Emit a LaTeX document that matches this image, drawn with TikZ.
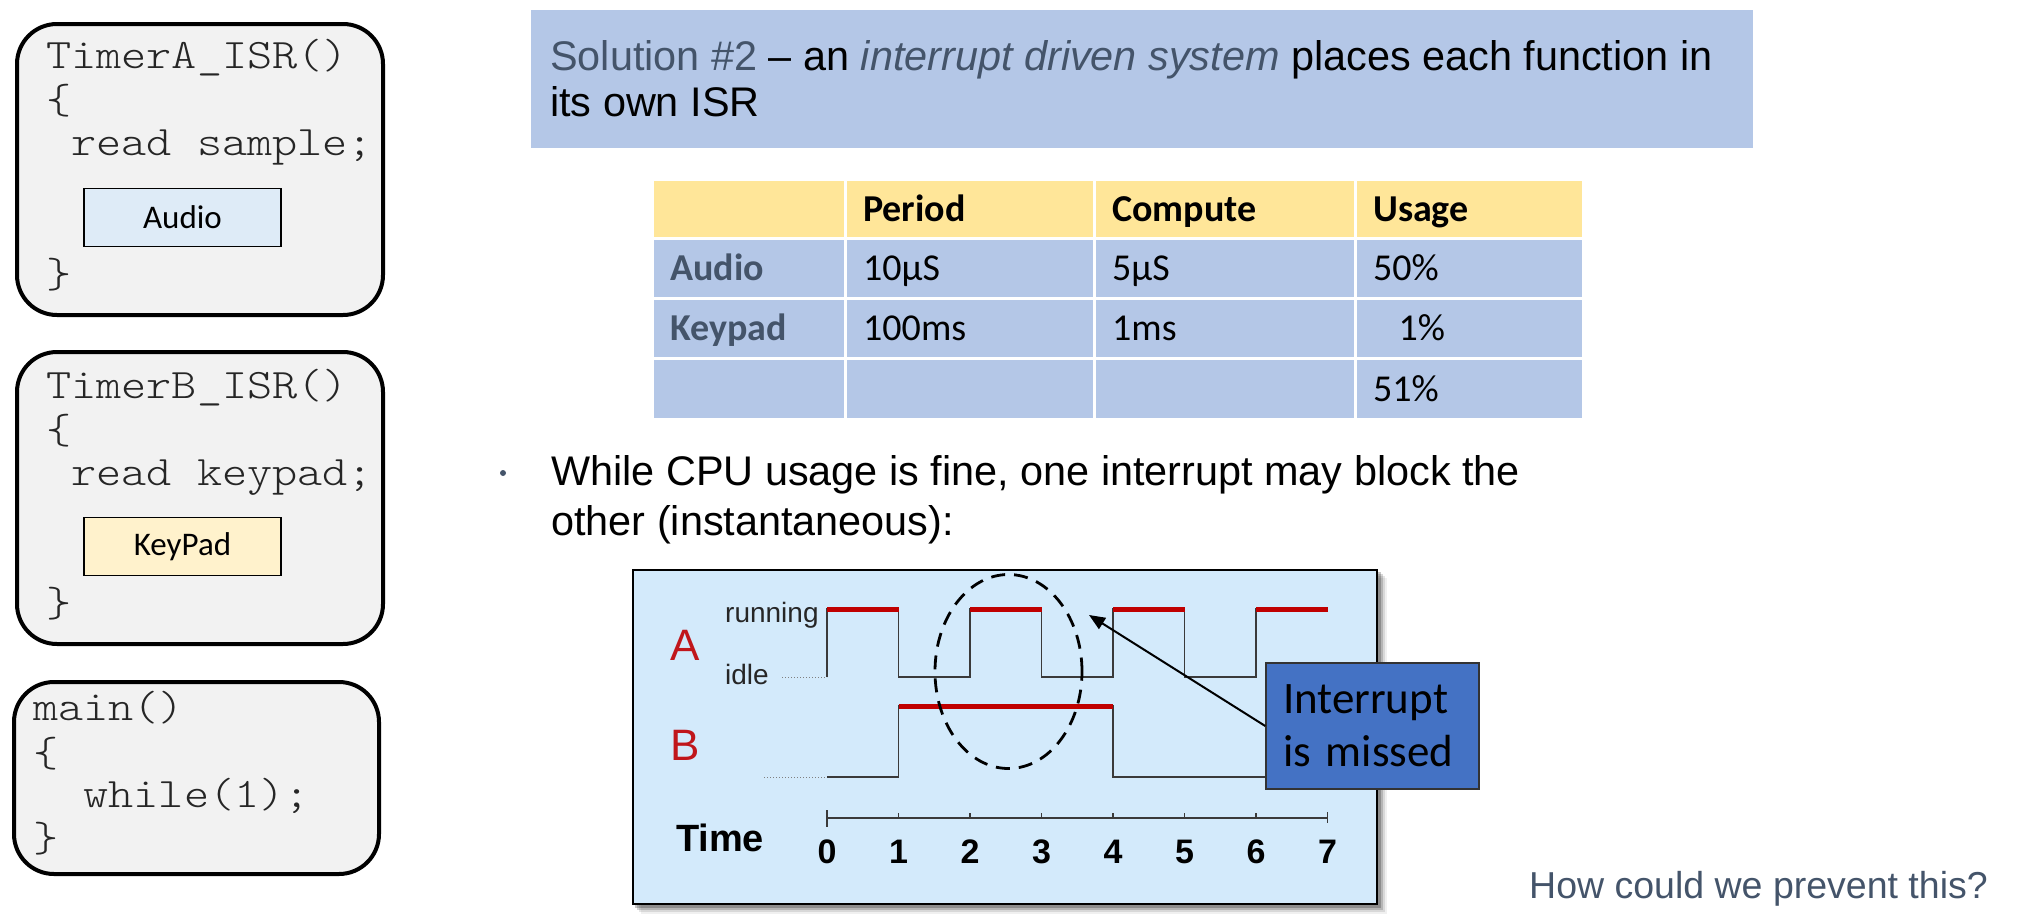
\documentclass[tikz,border=0pt]{standalone}
\usepackage{fontspec}
\setmainfont{Liberation Sans}
\newfontfamily\codefont{lmmonolt10-regular}[Extension=.otf,FakeStretch=1.14]
\newfontfamily\calfont{Carlito}
\usetikzlibrary{arrows.meta,shapes.geometric}
\definecolor{slate}{HTML}{44546A}
\definecolor{hdrblue}{HTML}{B4C7E7}
\definecolor{hdryel}{HTML}{FFE699}
\definecolor{codebg}{HTML}{F2F2F2}
\definecolor{audiobg}{HTML}{DEEBF7}
\definecolor{keybg}{HTML}{FFF2CC}
\definecolor{plotbg}{HTML}{D3EAFB}
\definecolor{runred}{HTML}{C00000}
\definecolor{letred}{HTML}{C0161B}
\definecolor{calloutbg}{HTML}{4472C4}
\definecolor{wave}{HTML}{3A3A3A}
\begin{document}
\begin{tikzpicture}[x=1pt,y=-1pt,
  codebox/.style={draw=black,line width=4pt,fill=codebg,rounded corners=40pt,inner sep=0pt},
  code/.style={anchor=base west,inner sep=0pt,text=black!85,font=\codefont\fontsize{42}{50}\selectfont},
  tagbox/.style={draw=black,line width=1.5pt,inner sep=0pt,minimum width=197pt,minimum height=58pt,font=\calfont\fontsize{33}{40}\selectfont},
  slide/.style={anchor=base west,inner sep=0pt,font=\fontsize{41.4}{49}\selectfont},
  cell/.style n args={2}{anchor=north west,inner xsep=16pt,inner ysep=0pt,align=left,
    text width=#1,minimum height=#2,text height=28pt,text depth=4pt,fill=hdrblue,
    font=\calfont\fontsize{38}{46}\selectfont},
  head/.style={fill=hdryel,font=\calfont\bfseries\fontsize{38}{46}\selectfont},
  rowlab/.style={text=slate,font=\calfont\bfseries\fontsize{38}{46}\selectfont},
  lvl/.style={anchor=base west,inner sep=0pt,text=black!85,font=\fontsize{28}{32}\selectfont},
  sig/.style={text=letred,inner sep=0pt,font=\fontsize{44}{50}\selectfont},
  tnum/.style={inner sep=0pt,font=\bfseries\fontsize{34}{38}\selectfont},
  edge/.style={draw=wave,line width=1.6pt},
  busy/.style={draw=runred,line width=5pt},
  base/.style={draw=gray,line width=1pt,dotted},
]
\useasboundingbox (0,0) rectangle (2018,918);

% ---------- code fragments on the left ----------
\node[codebox,minimum width=366pt,minimum height=291pt] (isrA) at (200,169.5) {};
\node[code] (isrA1) at (46,68) {TimerA\_ISR()};
\node[code] (isrA2) at (46,113) {\{};
\node[code] (isrA3) at (46,155) {\ read sample;};
\node[tagbox,fill=audiobg] (tagA) at (182.5,217.5) {Audio};
\node[code] (isrA4) at (46,287) {\}};

\node[codebox,minimum width=366pt,minimum height=292pt] (isrB) at (200,498) {};
\node[code] (isrB1) at (46,398) {TimerB\_ISR()};
\node[code] (isrB2) at (46,443) {\{};
\node[code] (isrB3) at (46,485) {\ read keypad;};
\node[tagbox,fill=keybg] (tagB) at (182.5,546.5) {KeyPad};
\node[code] (isrB4) at (46,616) {\}};

\node[codebox,minimum width=365pt,minimum height=192pt] (mainfn) at (196.5,778) {};
\node[code] (main1) at (33,720) {main()};
\node[code] (main2) at (33,766) {\{};
\node[code] (main3) at (33,807) {\ \ while(1);};
\node[code] (main4) at (33,851) {\}};

% ---------- heading ----------
\node[fill=hdrblue,inner sep=0pt,minimum width=1222pt,minimum height=138pt] (hdr) at (1142,79) {};
\node[slide] (hdr1) at (550,70) {\textcolor{slate}{Solution \#2} – an \textcolor{slate}{\itshape interrupt driven system} places each function in};
\node[slide] (hdr2) at (550,116) {its own ISR};

% ---------- usage table ----------
\node[cell={158pt}{56pt},head] (c00) at (654,181) {};
\node[cell={214pt}{56pt},head] (c01) at (847,181) {Period};
\node[cell={226pt}{56pt},head] (c02) at (1096,181) {Compute};
\node[cell={193pt}{56pt},head] (c03) at (1357,181) {Usage};
\node[cell={158pt}{57pt},rowlab] (c10) at (654,240) {Audio};
\node[cell={214pt}{57pt}] (c11) at (847,240) {10µS};
\node[cell={226pt}{57pt}] (c12) at (1096,240) {5µS};
\node[cell={193pt}{57pt}] (c13) at (1357,240) {50\%};
\node[cell={158pt}{57pt},rowlab] (c20) at (654,300) {Keypad};
\node[cell={214pt}{57pt}] (c21) at (847,300) {100ms};
\node[cell={226pt}{57pt}] (c22) at (1096,300) {1ms};
\node[cell={193pt}{57pt}] (c23) at (1357,300) {\ \ 1\%};
\node[cell={158pt}{58pt}] (c30) at (654,360) {};
\node[cell={214pt}{58pt}] (c31) at (847,360) {};
\node[cell={226pt}{58pt}] (c32) at (1096,360) {};
\node[cell={193pt}{58pt}] (c33) at (1357,360) {51\%};

% ---------- bullet ----------
\node[circle,fill=slate,inner sep=0pt,minimum size=6pt] (dot) at (503,473) {};
\node[slide] (bul1) at (551,485) {While CPU usage is fine, one interrupt may block the};
\node[slide] (bul2) at (551,535) {other (instantaneous):};

% ---------- timing diagram ----------
\foreach \o/\op in {9/0.06,7/0.10,5/0.16,3/0.22}
  \fill[black,opacity=\op] (632+\o,569+\o) rectangle (1378+\o,905+\o);
\node[draw=black,line width=2pt,fill=plotbg,inner sep=0pt,minimum width=744pt,minimum height=334pt] (plot) at (1005,737) {};

\node[sig] (sigA) at (685,645) {A};
\node[sig] (sigB) at (685,745) {B};
\node[lvl] (lvlrun) at (725,622) {running};
\node[lvl] (lvlidle) at (725,684) {idle};

% signal A
\draw[base] (782,677) -- (827,677);
\draw[edge] (827,677) -- (827,609) -- (898.5,609) -- (898.5,677) -- (970,677) -- (970,609)
  -- (1041.5,609) -- (1041.5,677) -- (1113,677) -- (1113,609) -- (1184.5,609) -- (1184.5,677)
  -- (1256,677) -- (1256,609) -- (1327.5,609);
\foreach \a in {827,970,1113,1256}
  \draw[busy] (\a,609) -- (\a+71.5,609);

% signal B
\draw[base] (764,777) -- (827,777);
\draw[edge] (827,777) -- (898.5,777) -- (898.5,706) -- (1113,706) -- (1113,777) -- (1327.5,777);
\draw[busy] (898.5,706) -- (1113,706);

% time axis
\draw[edge,line width=1.3pt] (827,818) -- (1327.5,818);
\draw[edge,line width=1.3pt] (827,810) -- (827,827);
\draw[edge,line width=1.3pt] (1327.5,812) -- (1327.5,823);
\foreach \k in {1,...,6}
  \draw[edge,line width=1.3pt] (827+71.5*\k,813) -- (827+71.5*\k,818);
\foreach \k in {0,...,7}
  \node[tnum] (n\k) at (827+71.5*\k,852) {\k};
\node[inner sep=0pt,font=\bfseries\fontsize{38}{42}\selectfont] (timelab) at (720,838) {Time};

% missed interrupt
\node[draw=black,ellipse,dash pattern=on 14pt off 9pt,line width=2.8pt,inner sep=0pt,
  minimum width=147pt,minimum height=194pt] (miss) at (1008.5,671.5) {};
\node[draw=black!80,line width=1.5pt,fill=calloutbg,inner xsep=17pt,inner ysep=0pt,
  text width=179pt,minimum height=126pt,align=left,
  font=\calfont\fontsize{45}{53}\selectfont] (callout) at (1372.5,726) {Interrupt\\is missed};
\coordinate (tip) at (1089,615);
\draw[-{Triangle[length=16pt,width=13pt]},line width=2pt] (callout.west) -- (tip);

% ---------- closing question ----------
\node[anchor=base west,inner sep=0pt,text=slate,font=\fontsize{37.5}{44}\selectfont] (ask) at (1529,898) {How could we prevent this?};
\end{tikzpicture}
\end{document}
